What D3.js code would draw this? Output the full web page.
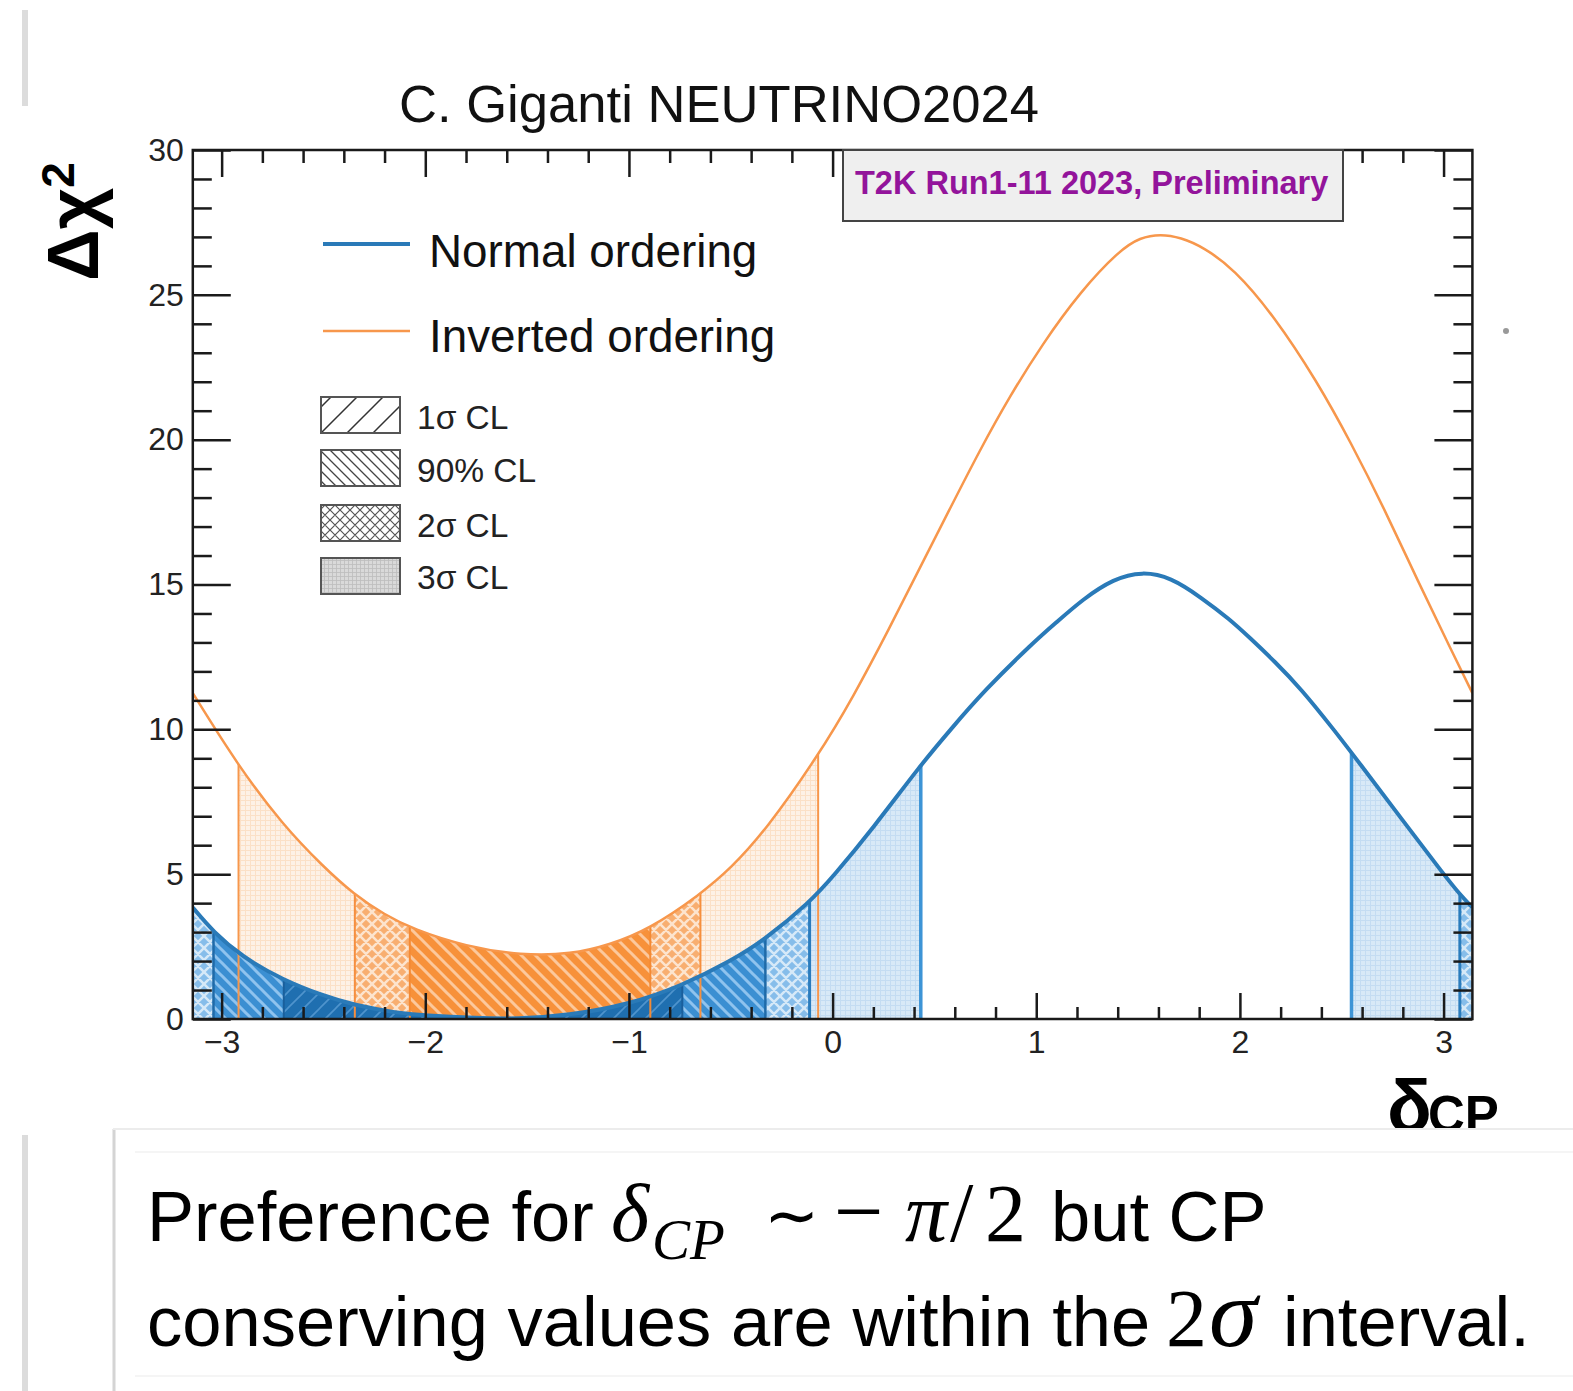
<!DOCTYPE html>
<html><head><meta charset="utf-8">
<script src="https://cdn.jsdelivr.net/npm/d3@7"></script>
<style>body{margin:0;background:#fff;} svg{display:block}</style>
</head><body><svg id="chart" width="1573" height="1391"></svg>
<script>
// ---------------- data ----------------
const noDelta = [-3.1416, -3.04, -2.90, -2.70, -2.50, -2.35, -2.15, -2.0, -1.75, -1.55, -1.30, -1.0, -0.74, -0.50, -0.33, -0.11, 0.0, 0.20, 0.43, 0.58, 0.74, 0.985, 1.10, 1.23, 1.38, 1.52, 1.66, 1.81, 1.95, 2.05, 2.17, 2.30, 2.46, 2.58, 2.80, 3.0, 3.08, 3.1416];
const noChi2  = [3.85, 3.0, 2.15, 1.35, 0.8, 0.48, 0.22, 0.12, 0.03, 0.0, 0.12, 0.5, 1.15, 2.0, 2.75, 4.05, 4.9, 6.6, 8.75, 10.0, 11.3, 13.0, 13.7, 14.5, 15.2, 15.45, 15.25, 14.55, 13.8, 13.15, 12.35, 11.4, 10.0, 8.9, 6.85, 5.0, 4.3, 3.85];
const ioDelta = [-3.1416, -2.92, -2.70, -2.50, -2.35, -2.20, -2.06, -1.80, -1.53, -1.28, -1.10, -0.90, -0.65, -0.50, -0.33, -0.07, 0.10, 0.28, 0.43, 0.575, 0.72, 0.87, 1.03, 1.215, 1.41, 1.51, 1.61, 1.71, 1.82, 1.97, 2.165, 2.38, 2.545, 2.71, 2.875, 3.04, 3.1416];
const ioChi2  = [11.25, 8.75, 6.7, 5.25, 4.3, 3.6, 3.1, 2.5, 2.2, 2.24, 2.55, 3.1, 4.3, 5.2, 6.5, 9.1, 11.1, 13.5, 15.6, 17.6, 19.6, 21.5, 23.3, 25.1, 26.55, 26.98, 27.1, 26.98, 26.65, 25.9, 24.3, 22.0, 19.9, 17.6, 15.1, 12.7, 11.25];

const noBands = [
  {key: "3s", cl: "3σ", ranges: [[-Math.PI, 0.433], [2.548, Math.PI]]},
  {key: "2s", cl: "2σ", ranges: [[-Math.PI, -0.113], [3.08, Math.PI]]},
  {key: "90", cl: "90%", ranges: [[-3.04, -0.33]]},
  {key: "1s", cl: "1σ", ranges: [[-2.695, -0.738]]}
];
const ioBands = [
  {key: "3s", cl: "3σ", ranges: [[-2.917, -0.071]]},
  {key: "2s", cl: "2σ", ranges: [[-2.346, -0.649]]},
  {key: "90", cl: "90%", ranges: [[-2.076, -0.895]]}
];

const xTickLabels = [-3, -2, -1, 0, 1, 2, 3];
const yTickLabels = [0, 5, 10, 15, 20, 25, 30];
const seriesNames = ["Normal ordering", "Inverted ordering"];
const clNames = ["1σ CL", "90% CL", "2σ CL", "3σ CL"];
const titleText = "C. Giganti NEUTRINO2024";
const expText = "T2K Run1-11 2023, Preliminary";

// ---------------- setup ----------------
const SANS = "'Liberation Sans', Arial, Helvetica, sans-serif";
const SERIF = "'Liberation Serif', 'Times New Roman', serif";
const svg = d3.select("#chart");
const defs = svg.append("defs");

const x = d3.scaleLinear().domain([-Math.PI, Math.PI]).range([192.8, 1472.4]);
const y = d3.scaleLinear().domain([0, 30]).range([1019, 150]);

const BLUE = "#2a7ab8", ORANGE = "#f7974c";

function hatch(id, s, bg, stroke, sw, dirs) {
  const p = defs.append("pattern").attr("id", id).attr("patternUnits", "userSpaceOnUse")
    .attr("width", s).attr("height", s);
  if (bg) p.append("rect").attr("width", s).attr("height", s).attr("fill", bg);
  let d = "";
  if (dirs.includes("\\")) d += `M${-s/2},${s/2}L${s/2},${1.5*s}M0,0L${s},${s}M${s/2},${-s/2}L${1.5*s},${s/2}`;
  if (dirs.includes("/")) d += `M${-s/2},${s/2}L${s/2},${-s/2}M0,${s}L${s},0M${s/2},${1.5*s}L${1.5*s},${s/2}`;
  if (dirs.includes("+")) d += `M0,0.5H${s}M0.5,0V${s}`;
  p.append("path").attr("d", d).attr("stroke", stroke).attr("stroke-width", sw).attr("fill", "none");
}
hatch("no3s", 5, "#d8e9f7", "#c4dcf2", 1, "+");
hatch("no2s", 12, "#86bdea", "#d6e9f8", 2.5, "\\/");
hatch("no90", 13, "#3b8fd2", "#8fc3ee", 3, "\\");
hatch("no1s", 16, "#1f6fb0", "#4f94cd", 1.6, "/");
hatch("io3s", 5, "#fdf1e6", "#fbe0c7", 1, "+");
hatch("io2s", 12, "#f8ae70", "#fde4ce", 2.5, "\\/");
hatch("io90", 14, "#f7913a", "#fcc89c", 3, "\\");
hatch("lg1s", 26, "#fff", "#333", 1.5, "/");
hatch("lg90", 10, "#fff", "#444", 1.3, "\\");
hatch("lg2s", 10, "#fff", "#555", 1.2, "\\/");
hatch("lg3s", 4, "#d9d9d9", "#bdbdbd", 0.8, "+");

const CURVE = d3.curveBasis;
const areaGen = d3.area().x(d => x(d[0])).y0(y(0)).y1(d => y(d[1])).curve(CURVE);
const lineGen = d3.line().x(d => x(d[0])).y(d => y(d[1])).curve(CURVE);
const noPts = d3.zip(noDelta, noChi2);
const ioPts = d3.zip(ioDelta, ioChi2);

defs.append("clipPath").attr("id", "underNO").append("path").attr("d", areaGen(noPts));
defs.append("clipPath").attr("id", "underIO").append("path").attr("d", areaGen(ioPts));
defs.append("clipPath").attr("id", "plotArea").append("rect")
  .attr("x", x(-Math.PI)).attr("y", y(30)).attr("width", x(Math.PI) - x(-Math.PI)).attr("height", y(0) - y(30));

let cid = 0;
const gFill = svg.append("g").attr("clip-path", "url(#plotArea)");
function drawBands(pts, bands, prefix) {
  bands.forEach(b => b.ranges.forEach(r => {
    const id = "bclip" + (cid++);
    defs.append("clipPath").attr("id", id).append("rect")
      .attr("x", x(r[0])).attr("y", y(30)).attr("width", x(r[1]) - x(r[0])).attr("height", y(0) - y(30));
    gFill.append("g").attr("clip-path", `url(#${id})`)
      .append("path").attr("d", areaGen(pts)).attr("fill", `url(#${prefix}${b.key})`);
  }));
}
drawBands(ioPts, ioBands, "io");
drawBands(noPts, noBands, "no");

const gEdge = svg.append("g");
function drawEdges(bands, clipId, styles) {
  bands.forEach(b => b.ranges.forEach(r => r.forEach(v => {
    if (Math.abs(Math.abs(v) - Math.PI) < 1e-3) return;
    gEdge.append("line").attr("x1", x(v)).attr("x2", x(v)).attr("y1", y(0)).attr("y2", y(30))
      .attr("stroke", styles[b.key][0]).attr("stroke-width", styles[b.key][1])
      .attr("clip-path", `url(#${clipId})`);
  })));
}
drawEdges(ioBands, "underIO", {"3s": ["#f7974c", 2], "2s": ["#f68f3e", 2], "90": ["#f48a34", 2]});
drawEdges(noBands, "underNO", {"3s": ["#3d94d6", 3.5], "2s": ["#2a7cbd", 3], "90": ["#1f6aa8", 2.5], "1s": ["#1a5f9c", 2]});

// curves
const gCurve = svg.append("g").attr("clip-path", "url(#plotArea)");
gCurve.append("path").attr("d", lineGen(ioPts)).attr("fill", "none").attr("stroke", ORANGE).attr("stroke-width", 2.5);
gCurve.append("path").attr("d", lineGen(noPts)).attr("fill", "none").attr("stroke", BLUE).attr("stroke-width", 4);

// ---------------- axes ----------------
const minorX = d3.range(-30, 31, 2).map(v => v / 10).filter(v => !xTickLabels.includes(v));
const minorY = d3.range(0, 31).filter(v => !yTickLabels.includes(v));
function styleAxis(g) {
  g.select(".domain").remove();
  g.selectAll(".tick line").attr("stroke", "#1a1a1a").attr("stroke-width", 2.5);
  g.selectAll(".tick text").attr("font-family", SANS).attr("font-size", 32).attr("fill", "#222");
}
svg.append("g").attr("transform", `translate(0,${y(0)})`)
  .call(d3.axisBottom(x).tickValues(minorX).tickSize(-12).tickFormat("")).call(styleAxis);
svg.append("g").attr("transform", `translate(0,${y(0)})`)
  .call(d3.axisBottom(x).tickValues(xTickLabels).tickSize(-26).tickPadding(11).tickFormat(d3.format("d"))).call(styleAxis);
svg.append("g").attr("transform", `translate(0,${y(30)})`)
  .call(d3.axisTop(x).tickValues(minorX).tickSize(-13).tickFormat("")).call(styleAxis);
svg.append("g").attr("transform", `translate(0,${y(30)})`)
  .call(d3.axisTop(x).tickValues(xTickLabels).tickSize(-27).tickFormat("")).call(styleAxis);
svg.append("g").attr("transform", `translate(${x(-Math.PI)},0)`)
  .call(d3.axisLeft(y).tickValues(minorY).tickSize(-19).tickFormat("")).call(styleAxis);
svg.append("g").attr("transform", `translate(${x(-Math.PI)},0)`)
  .call(d3.axisLeft(y).tickValues(yTickLabels).tickSize(-38).tickPadding(9).tickFormat(d3.format("d"))).call(styleAxis);
svg.append("g").attr("transform", `translate(${x(Math.PI)},0)`)
  .call(d3.axisRight(y).tickValues(minorY).tickSize(-19).tickFormat("")).call(styleAxis);
svg.append("g").attr("transform", `translate(${x(Math.PI)},0)`)
  .call(d3.axisRight(y).tickValues(yTickLabels).tickSize(-38).tickFormat("")).call(styleAxis);

// frame
svg.append("rect").attr("x", x(-Math.PI)).attr("y", y(30))
  .attr("width", x(Math.PI) - x(-Math.PI)).attr("height", y(0) - y(30))
  .attr("fill", "none").attr("stroke", "#1a1a1a").attr("stroke-width", 2.5);

// experiment box
svg.append("rect").attr("x", 843).attr("y", 150).attr("width", 500).attr("height", 71)
  .attr("fill", "#efefef").attr("stroke", "#444").attr("stroke-width", 2);
svg.append("text").attr("x", 855).attr("y", 194).attr("font-family", SANS).attr("font-weight", "bold")
  .attr("font-size", 32.5).attr("fill", "#93149b").text(expText);

// title
svg.append("text").attr("x", 399).attr("y", 122).attr("font-family", SANS).attr("font-size", 52.6)
  .attr("fill", "#111").text(titleText);

// axis titles
const yt = svg.append("text").attr("transform", "translate(98,281) rotate(-90)")
  .attr("font-family", SANS).attr("font-weight", "bold").attr("font-size", 72).attr("fill", "#000");
yt.append("tspan").text("Δχ");
yt.append("tspan").attr("font-size", 46).attr("dy", -24).text("2");

const xt = svg.append("text").attr("y", 1132)
  .attr("font-family", SANS).attr("font-weight", "bold").attr("fill", "#000");
xt.append("tspan").attr("x", 1387).attr("font-size", 74).text("δ");
xt.append("tspan").attr("x", 1428).attr("font-size", 51).text("CP");

// legend
const legY = [244, 331];
const legBase = [267, 352];
[[BLUE, 4], [ORANGE, 2.5]].forEach((s, i) => {
  svg.append("line").attr("x1", 323).attr("x2", 410).attr("y1", legY[i]).attr("y2", legY[i])
    .attr("stroke", s[0]).attr("stroke-width", s[1]);
  svg.append("text").attr("x", 429).attr("y", legBase[i]).attr("font-family", SANS)
    .attr("font-size", 45.8).attr("fill", "#111").text(seriesNames[i]);
});
const boxY = [397, 450, 505, 558];
const boxBase = [429, 482, 537, 589];
const boxPat = ["lg1s", "lg90", "lg2s", "lg3s"];
clNames.forEach((n, i) => {
  svg.append("rect").attr("x", 321).attr("y", boxY[i]).attr("width", 79).attr("height", 36)
    .attr("fill", `url(#${boxPat[i]})`).attr("stroke", "#555").attr("stroke-width", 2);
  svg.append("text").attr("x", 417).attr("y", boxBase[i]).attr("font-family", SANS)
    .attr("font-size", 33.5).attr("fill", "#222").text(n);
});

// small stray dot
svg.append("circle").attr("cx", 1506).attr("cy", 331).attr("r", 3).attr("fill", "#999");

// slide artifacts
svg.append("rect").attr("x", 22).attr("y", 10).attr("width", 6).attr("height", 96).attr("fill", "#dcdcdc");
svg.append("rect").attr("x", 22).attr("y", 1135).attr("width", 6).attr("height", 256).attr("fill", "#dcdcdc");

// bottom panel
svg.append("rect").attr("x", 113).attr("y", 1129).attr("width", 1460).attr("height", 262).attr("fill", "#fff");
svg.append("line").attr("x1", 114).attr("x2", 114).attr("y1", 1129).attr("y2", 1391).attr("stroke", "#d4d4d4").attr("stroke-width", 3);
svg.append("line").attr("x1", 113).attr("x2", 1573).attr("y1", 1129).attr("y2", 1129).attr("stroke", "#ececec").attr("stroke-width", 2);
svg.append("line").attr("x1", 135).attr("x2", 1573).attr("y1", 1152).attr("y2", 1152).attr("stroke", "#f2f2f2").attr("stroke-width", 1.5);
svg.append("line").attr("x1", 135).attr("x2", 1573).attr("y1", 1376).attr("y2", 1376).attr("stroke", "#f2f2f2").attr("stroke-width", 1.5);

function seg(t, xx, yy, txt, fam, size, italic) {
  t.append("tspan").attr("x", xx).attr("y", yy).attr("font-family", fam).attr("font-size", size)
    .attr("font-style", italic ? "italic" : "normal").text(txt);
}
const l1 = svg.append("text").attr("fill", "#000");
seg(l1, 147, 1241, "Preference for", SANS, 70.5, false);
seg(l1, 611, 1241, "δ", SERIF, 82, true);
seg(l1, 652, 1259, "CP", SERIF, 57, true);
seg(l1, 764, 1238, "∼", SERIF, 66, false);
seg(l1, 834, 1241, "−", SERIF, 88, false);
seg(l1, 905, 1241, "π", SERIF, 84, true);
seg(l1, 950, 1241, "/", SERIF, 84, false);
seg(l1, 985, 1241, "2", SERIF, 82, false);
seg(l1, 1051, 1241, "but CP", SANS, 70.5, false);
const l2 = svg.append("text").attr("fill", "#000");
seg(l2, 147, 1346, "conserving values are within the", SANS, 70.5, false);
seg(l2, 1166, 1346, "2", SERIF, 82, false);
seg(l2, 1209, 1346, "σ", SERIF, 98, true);
seg(l2, 1283, 1346, "interval.", SANS, 70.5, false);
</script></body></html>
